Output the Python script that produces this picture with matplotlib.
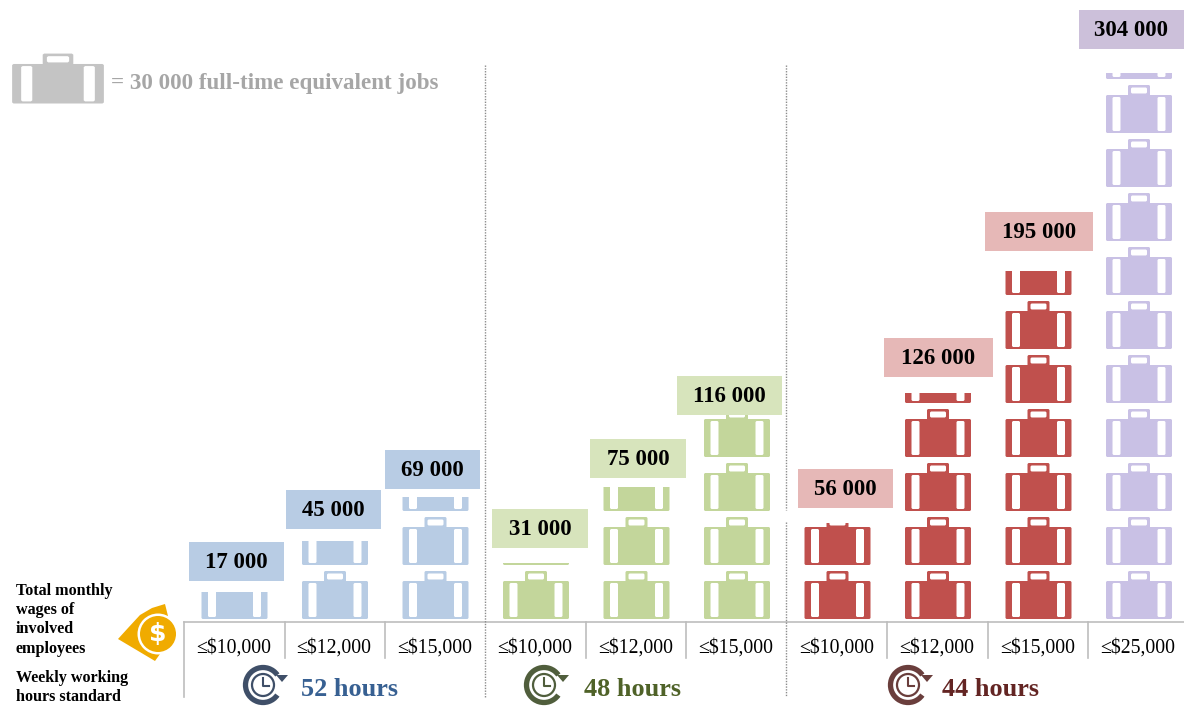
import matplotlib
matplotlib.use('Agg')
import matplotlib.pyplot as plt
from matplotlib.patches import Arc, Circle, PathPatch, Polygon, Rectangle
from matplotlib.path import Path

plt.rcParams['font.family'] = ['Liberation Serif', 'DejaVu Serif']

# values
wage_labels = ['≤$10,000', '≤$12,000', '≤$15,000',
               '≤$10,000', '≤$12,000', '≤$15,000',
               '≤$10,000', '≤$12,000', '≤$15,000', '≤$25,000']
jobs = [17000, 45000, 69000, 31000, 75000, 116000, 56000, 126000, 195000, 304000]
job_labels = ['17 000', '45 000', '69 000', '31 000', '75 000', '116 000',
              '56 000', '126 000', '195 000', '304 000']
hours = ['52 hours', '48 hours', '44 hours']
JOBS_PER_ICON = 30000

# colours and layout (pixels)
W, H = 1184, 709
icon_colors = ['#B8CCE4'] * 3 + ['#C3D69B'] * 3 + ['#C0504D'] * 3 + ['#C9C1E5']
box_colors = ['#B8CCE4'] * 3 + ['#D7E4BC'] * 3 + ['#E6B8B7'] * 3 + ['#CCC0DA']
box_left = [189, 286, 385, 492, 590, 677, 798, 884, 985, 1079]
box_right = [284, 381, 480, 588, 686, 782, 893, 993, 1093, 1184]
box_top = [542, 490, 450, 509, 439, 376, 469, 338, 212, 10]
box_h = 38.5
clock_x = [263, 544, 908]
hour_x = [301, 584, 942]
hour_colors = ['#376092', '#4F6228', '#632523']
clock_colors = ['#3F4F68', '#505E3C', '#6A3E3C']
X0, DX = 234.5, 100.5   # first column, column pitch
BASE, PITCH = 619, 54   # baseline, icon pitch
ICON_H = 48


def icon_path(sx=1.0, sy=1.0, x0=0.0, y0=0.0):
    # suitcase drawn around x=0, y=0 at the bottom; holes run the other way
    outer = [(-32, 0), (32, 0), (33, 1), (33, 37), (32, 38), (11, 38), (11, 47), (10, 48),
             (-10, 48), (-11, 47), (-11, 38), (-32, 38), (-33, 37), (-33, 1), (-32, 0)]
    def hole(a, b, c, d):
        return [(a, c + 1), (a, d - 1), (a + 1, d), (b - 1, d), (b, d - 1), (b, c + 1), (b - 1, c),
                (a + 1, c), (a, c + 1)]
    rings = [outer, hole(-26.5, -18.5, 2, 36), hole(18.5, 26.5, 2, 36), hole(-8, 8, 39.5, 45.5)]
    verts, codes = [], []
    for r in rings:
        verts += [(x0 + sx * px, y0 + sy * py) for px, py in r]
        codes += [Path.MOVETO] + [Path.LINETO] * (len(r) - 2) + [Path.CLOSEPOLY]
    return Path(verts, codes)


fig = plt.figure(figsize=(W / 100, H / 100), dpi=100)

# data axes: x = column number, y = jobs
ax = fig.add_axes([0, 0, 1, 1])
ax.set_xlim(-X0 / DX, (W - X0) / DX)
ax.set_ylim((BASE - H) * JOBS_PER_ICON / PITCH, BASE * JOBS_PER_ICON / PITCH)
ax.axis('off')

sx = 1 / DX
sy = JOBS_PER_ICON / PITCH
for i, v in enumerate(jobs):
    n_full = v // JOBS_PER_ICON
    frac = v / JOBS_PER_ICON - n_full
    for k in range(n_full + 1):
        y0 = k * JOBS_PER_ICON
        p = PathPatch(icon_path(sx, sy, i, y0), fc=icon_colors[i], ec='none')
        ax.add_patch(p)
        if k == n_full:
            # last suitcase is only filled up to the remainder
            clip = Rectangle((i - 0.5, y0), 1, frac * ICON_H * sy, transform=ax.transData)
            p.set_clip_path(clip)

# overlay in pixels for labels and decoration
over = fig.add_axes([0, 0, 1, 1])
over.set_xlim(0, W)
over.set_ylim(H, 0)
over.axis('off')
over.patch.set_alpha(0)

# axis lines under the columns
over.plot([184, W], [622, 622], color='#BDBDBD', lw=1.2)
over.plot([184, 184], [622, 697], color='#BDBDBD', lw=1.2)
for x in [285, 385, 586, 686, 887, 988, 1088]:
    over.plot([x, x], [622, 658], color='#BDBDBD', lw=1.2)
over.plot([485, 485], [65, 697], color='#8C8C8C', lw=1, ls=(0, (1, 1)))
over.plot([786, 786], [65, 510], color='#8C8C8C', lw=1, ls=(0, (1, 1)))
over.plot([786, 786], [522, 697], color='#8C8C8C', lw=1, ls=(0, (1, 1)))

for i in range(len(jobs)):
    over.add_patch(Rectangle((box_left[i], box_top[i]), box_right[i] - box_left[i], box_h,
                             fc=box_colors[i], ec='none'))
    over.text((box_left[i] + box_right[i]) / 2, box_top[i] + box_h / 2 + 1.5, job_labels[i],
              ha='center', va='center', fontsize=16.5, fontweight='bold', color='black')
    over.text(X0 - 1 + i * DX, 648, wage_labels[i], ha='center', va='center', fontsize=14.2,
              color='black')

# hours groups with the clock symbol
for cx, tx, label, c, cc in zip(clock_x, hour_x, hours, hour_colors, clock_colors):
    y = 685
    over.add_patch(Arc((cx, y), 35, 35, theta1=35, theta2=325, color=cc, lw=3.8))
    over.add_patch(Polygon([(cx + 13, y - 10), (cx + 25, y - 10), (cx + 19, y - 3)], fc=cc, ec='none'))
    over.add_patch(Circle((cx, y), 11, fc='none', ec=cc, lw=1.6))
    over.plot([cx, cx, cx + 6], [y - 7, y + 1, y + 1], color=cc, lw=1.5)
    over.text(tx, 690, label, ha='left', va='center', fontsize=18.9, fontweight='bold', color=c)

# legend at top left
over.add_patch(PathPatch(icon_path(1.39, -1.04, 58, 103.5), fc='#C4C4C4', ec='none'))
over.text(111, 84, '= 30 000 full-time equivalent jobs', ha='left', va='center', fontsize=16.6,
          fontweight='bold', color='#A6A6A6')

# row captions on the left
for y, s in [(590, 'Total monthly'), (609, 'wages of'), (628, 'involved'), (648, 'employees'),
             (677, 'Weekly working'), (696, 'hours standard')]:
    over.text(16, y + 1, s, ha='left', va='center', fontsize=11.6, fontweight='bold', color='black')

# money symbol
over.add_patch(Polygon([(118, 639), (128, 628), (140, 615), (152, 608), (165, 604), (168, 616),
                        (160, 654), (155, 661)], fc='#F0AB00', ec='none'))
over.add_patch(Circle((158, 634), 20.5, fc='white', ec='none'))
over.add_patch(Circle((158, 634), 18, fc='#F0AB00', ec='none'))
over.text(158, 634, '$', ha='center', va='center', fontsize=18, fontweight='bold', color='white',
          family='DejaVu Sans')

fig.savefig('out.png', dpi=100)
